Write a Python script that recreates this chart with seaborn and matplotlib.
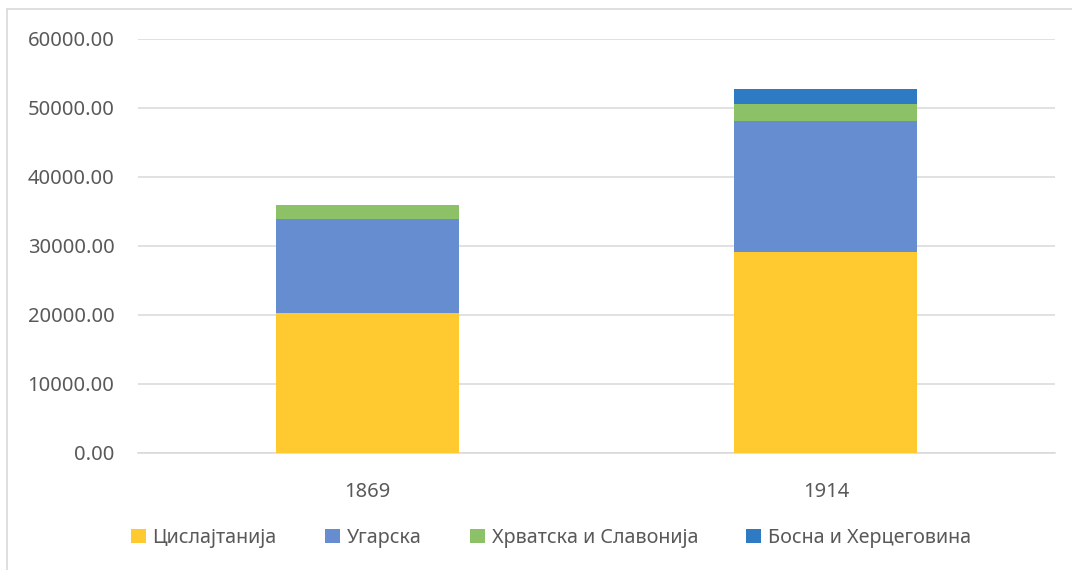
import pandas as pd
import seaborn as sns
from matplotlib import pyplot as plt
from matplotlib.lines import Line2D
from matplotlib.patches import Patch
from matplotlib.ticker import FuncFormatter

# values
years = ["1869", "1914"]
series_names = ["Цислајтанија", "Угарска", "Хрватска и Славонија", "Босна и Херцеговина"]
cisleithania = [20330, 29180]
hungary = [13610, 18940]
croatia_slavonia = [1930, 2460]
bosnia_herzegovina = [0, 2160]
colors = ["#FFCA2F", "#668DCF", "#8CC168", "#2E7BC4"]

df = pd.DataFrame({
    "year": years,
    series_names[0]: cisleithania,
    series_names[1]: hungary,
    series_names[2]: croatia_slavonia,
    series_names[3]: bosnia_herzegovina,
})

# cumulative tops, so each layer can be drawn over the one above it
cum = df[series_names].cumsum(axis=1)
cum["year"] = df["year"]

sns.set_theme(style="white")
plt.rcParams['font.family'] = ['Noto Sans', 'DejaVu Sans']
text_color = "#595959"

fig = plt.figure(figsize=(10.72, 5.70), dpi=100)
ax = fig.add_axes([0.1287, 0.2053, 0.9842 - 0.1287, 0.9316 - 0.2053])

for name, col in reversed(list(zip(series_names, colors))):
    sns.barplot(data=cum, x="year", y=name, order=years, color=col,
                width=0.4, saturation=1, ax=ax, edgecolor="none", zorder=3)

ax.set_ylim(0, 60000)
ax.set_xlim(-0.5, 1.5)
ax.set_yticks(range(0, 60001, 10000))
ax.yaxis.set_major_formatter(FuncFormatter(lambda v, p: "{:.2f}".format(v)))
ax.yaxis.grid(True, color="#D9D9D9", linewidth=1.1, zorder=0)
ax.set_axisbelow(True)
for side in ["left", "right", "top"]:
    ax.spines[side].set_visible(False)
ax.spines["bottom"].set_color("#D9D9D9")
ax.spines["bottom"].set_linewidth(1.1)
ax.set_xlabel("")
ax.set_ylabel("")
ax.tick_params(axis="y", length=0, pad=17, labelsize=14.5, labelcolor=text_color)
ax.tick_params(axis="x", length=0, pad=21, labelsize=14.5, labelcolor=text_color)

handles = [Patch(facecolor=c, edgecolor="none") for c in colors]
fig.legend(handles, series_names, loc="center", bbox_to_anchor=(0.514, 1 - 538 / 570),
           ncol=4, frameon=False, fontsize=14.2, labelcolor=text_color,
           handlelength=0.75, handleheight=0.75, handletextpad=0.35, columnspacing=2.45)

# chart-area border (only top and left edges visible in the crop)
fig.add_artist(Line2D([7 / 1072, 7 / 1072], [0, 1 - 9 / 570], transform=fig.transFigure,
                      color="#D9D9D9", linewidth=1.2))
fig.add_artist(Line2D([7 / 1072, 1], [1 - 9 / 570, 1 - 9 / 570], transform=fig.transFigure,
                      color="#D9D9D9", linewidth=1.2))

fig.savefig("out.png", dpi=100)
